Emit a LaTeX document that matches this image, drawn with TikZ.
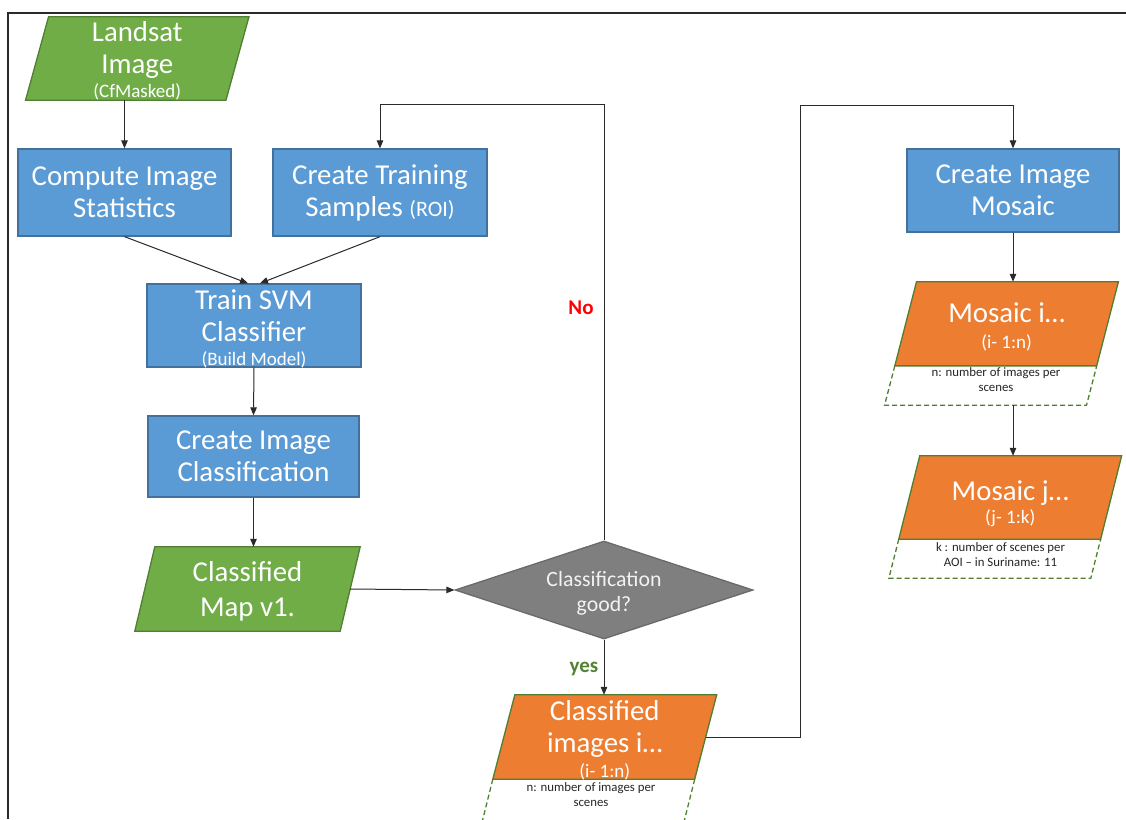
\documentclass[tikz,border=0pt]{standalone}
\usepackage{fontspec}
\setmainfont{Carlito}
\usetikzlibrary{arrows.meta,shapes.geometric}
\definecolor{gfill}{HTML}{70AD47}
\definecolor{gline}{HTML}{507E32}
\definecolor{bfill}{HTML}{5B9BD5}
\definecolor{bline}{HTML}{41719C}
\definecolor{ofill}{HTML}{ED7D31}
\definecolor{dfill}{HTML}{7F7F7F}
\definecolor{dline}{HTML}{6A6A6A}
\definecolor{cline}{HTML}{2A2A2A}
\definecolor{yesc}{HTML}{548235}
\newcommand\bigf{\fontsize{28.8}{32}\selectfont}
\newcommand\midf{\fontsize{21}{25}\selectfont}
\newcommand\decf{\fontsize{21.8}{25}\selectfont}
\newcommand\subf{\fontsize{19}{22}\selectfont}
\newcommand\roif{\fontsize{22}{25}\selectfont}
\newcommand\notef{\fontsize{12.8}{15}\selectfont}
\pgfdeclarelayer{bg}
\pgfsetlayers{bg,main}
\newcommand\drawpara[3]{\begin{pgfonlayer}{bg}\draw[#1] ([xshift=#3]#2.north west) -- ([xshift=#3]#2.north east) -- ([xshift=-#3]#2.south east) -- ([xshift=-#3]#2.south west) -- cycle;\end{pgfonlayer}}
\newcommand\drawnote[4]{\draw[notebox] ([xshift=-#2]#1.south west) -- ([xshift=-#2-#3, yshift=-#4]#1.south west) -- ([xshift=-#2-#3, yshift=-#4]#1.south east) -- ([xshift=-#2]#1.south east);}
\begin{document}
\begin{tikzpicture}[x=1pt,y=-1pt,
  box/.style={rectangle, draw=bline, fill=bfill, line width=1.3pt, text=white, font=\bigf, align=center, inner sep=0pt},
  gpara/.style={draw=gline, fill=gfill, line width=1.3pt},
  opara/.style={draw=gline, fill=ofill, line width=1.3pt},
  notebox/.style={draw=gline, line width=1.3pt, dash pattern=on 5pt off 3pt},
  pshape/.style={rectangle, inner sep=0pt},
  ptext/.style={rectangle, text=white, font=\bigf, align=center, inner sep=0pt},
  note/.style={text=black!85, font=\notef, align=center, inner sep=0pt},
  conn/.style={draw=cline, line width=1pt, -{Triangle[length=8pt,width=6.5pt]}},
  lab/.style={font=\midf\bfseries, inner sep=0pt}]

\clip (0,0) rectangle (1126,819);
\begin{pgfonlayer}{bg}
\fill[white] (0,0) rectangle (1126,819);
\end{pgfonlayer}
\draw[cline, line width=1.3pt] (1126,13) -- (8,13) -- (8,819);

% Landsat
\node[pshape, minimum width=200pt, minimum height=83pt] (landsat) at (137.25,58.5) {};
\drawpara{gpara}{landsat}{11.5}
\node[ptext] (landsatt) at ([yshift=-2.5]landsat.center) {Landsat\\Image\\[-8pt]{\subf (CfMasked)}};

% rectangles
\node[box, minimum width=213pt, minimum height=87pt] (comp) at (124.5,192.5) {Compute Image\\Statistics};
\node[box, minimum width=214pt, minimum height=87pt] (ctrain) at (380,192.5) {Create Training\\Samples {\roif (ROI)}};
\node[box, minimum width=214pt, minimum height=83pt] (train) at (254,325.5) {};
\node[ptext] (traint) at ([yshift=-3.5]train.center) {Train SVM\\Classifier\\[-8pt]{\subf (Build Model)}};
\node[box, minimum width=211pt, minimum height=81pt] (cic) at (253.5,456.5) {Create Image\\Classification};
\node[box, minimum width=212pt, minimum height=83pt] (mos) at (1013,190.5) {Create Image\\Mosaic};

% Classified Map
\node[pshape, minimum width=205pt, minimum height=84pt] (cmap) at (247.5,589) {};
\drawpara{gpara}{cmap}{10}
\node[ptext] (cmapt) at ([yshift=-2]cmap.center) {Classified\\[3pt]Map v1.};

% decision
\node[diamond, draw=dline, fill=dfill, line width=1.3pt, minimum width=298pt, minimum height=98pt, inner sep=0pt] (dec) at (604,590) {};
\node[font=\decf, text=white!95!black, align=center, inner sep=0pt] (dect) at (604,593) {Classification\\good?};

% Classified images
\node[pshape, minimum width=201.5pt, minimum height=84pt] (ci) at (604.75,737) {};
\drawpara{opara}{ci}{11}
\node[ptext] (cit) at ([yshift=-3]ci.center) {Classified\\images i…\\[-7pt]{\subf (i- 1:n)}};
\draw[notebox] ([xshift=-11]ci.south west) -- ([xshift=-24, yshift=-52]ci.south west);
\draw[notebox] ([xshift=-11]ci.south east) -- ([xshift=-24, yshift=-52]ci.south east);
\node[note] (cinote) at (591,794.5) {n: number of images per\\scenes};

% Mosaic i
\node[pshape, minimum width=201.5pt, minimum height=83.7pt] (mi) at (1006.6,323.8) {};
\drawpara{opara}{mi}{10.85}
\node[ptext] (mit) at ([yshift=-3]mi.center) {Mosaic i…\\[-6pt]{\subf (i- 1:n)}};
\drawnote{mi}{10.85}{10.2}{39.3}
\node[note] (minote) at (996,379.5) {n: number of images per\\scenes};
\coordinate (mibot) at (1013,405);

% Mosaic j
\node[pshape, minimum width=201.5pt, minimum height=83pt] (mj) at (1010.2,497.5) {};
\drawpara{opara}{mj}{10.5}
\node[ptext] (mjt) at ([yshift=-6]mj.center) {Mosaic j…\\[-9pt]{\subf (j- 1:k)}};
\drawnote{mj}{10.5}{9.9}{39}
\node[note] (mjnote) at (1000.5,554.5) {k : number of scenes per\\AOI – in Suriname: 11};

% connectors
\draw[conn] (landsat.south -| comp.north) -- (comp.north);
\draw[conn] (comp.south) -- ([xshift=-6]train.north);
\draw[conn] (ctrain.south) -- ([xshift=6]train.north);
\draw[conn] (train.south) -- (cic.north);
\draw[conn] (cic.south) -- (cic.south |- cmap.north);
\draw[conn] (cmap.east) -- (dec.west);
\coordinate (nturn) at (604,104);
\draw[conn] (dec.north) -- (nturn) -| (ctrain.north);
\draw[conn] (dec.south) -- (dec.south |- ci.north);
\coordinate (yturn) at (800,105);
\draw[conn] (ci.east) -| (yturn) -| (mos.north);
\draw[conn] (mos.south) -- (mos.south |- mi.north);
\draw[conn] (mibot) -- (mibot |- mj.north);

% labels
\node[lab, text=red] (no) at (581,308) {No};
\node[lab, text=yesc] (yes) at (584,669) {yes};
\end{tikzpicture}
\end{document}
